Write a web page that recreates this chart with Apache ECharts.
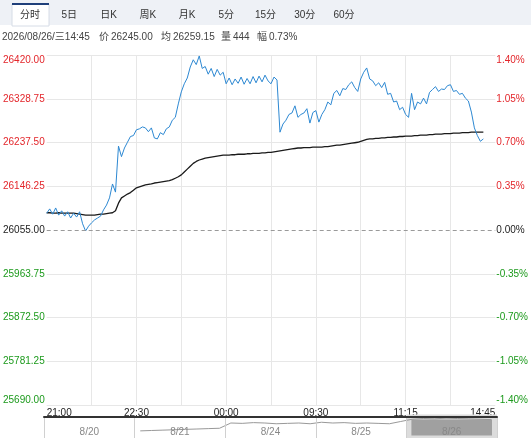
<!DOCTYPE html>
<html><head><meta charset="utf-8">
<script src="https://cdn.jsdelivr.net/npm/echarts@6/dist/echarts.min.js"></script>
<style>html,body{margin:0;padding:0;background:#fff}#c{width:531px;height:438px}</style>
</head><body><div id="c"></div>
<script>
// ---------- data ----------
const tabs = ['分时','5日','日K','周K','月K','5分','15分','30分','60分'];
const infoLabels = ['', '价', '均', '量', '幅'];
const infoValues = ['2026/08/26/三14:45', '26245.00', '26259.15', '444', '0.73%'];
const prevClose = 26055;
const priceMin = 25690, priceMax = 26420, priceStep = 91.25;
const pctMin = -1.4, pctMax = 1.4, pctStep = 0.35;
const timeTicks = ['21:00','22:30','00:00','09:30','11:15','14:45'];
const slotCount = 151;
const price = [
 26090,26099,26088,26101,26086,26095,26084,26093,26080,26090,
 26082,26093,26068,26053,26063,26070,26076,26080,26084,26097,
 26107,26122,26151,26134,26230,26208,26226,26238,26250,26252,
 26264,26266,26270,26268,26260,26268,26247,26245,26258,26254,
 26266,26270,26284,26290,26318,26343,26360,26372,26395,26410,
 26400,26418,26392,26396,26380,26392,26375,26390,26378,26384,
 26360,26372,26358,26370,26361,26374,26359,26371,26360,26375,
 26362,26376,26364,26378,26366,26360,26374,26368,26259,26276,
 26284,26296,26299,26314,26290,26296,26299,26308,26278,26300,
 26304,26280,26296,26306,26322,26316,26340,26346,26335,26350,
 26348,26358,26364,26352,26344,26370,26384,26393,26370,26366,
 26356,26362,26352,26363,26338,26340,26322,26324,26306,26311,
 26296,26290,26340,26306,26322,26318,26330,26318,26342,26348,
 26354,26344,26349,26348,26356,26358,26344,26346,26338,26340,
 26330,26324,26301,26268,26252,26240,26245
];
const avgPrice = [
 26091,26091,26090,26090,26091,26090,26090,26090,26090,26090,
 26089,26088,26087,26086,26086,26086,26086,26087,26088,26088,
 26089,26090,26091,26095,26111,26122,26126,26130,26133,26138,
 26143,26145,26147,26149,26150,26151,26153,26154,26155,26156,
 26157,26158,26160,26163,26166,26170,26176,26182,26188,26194,
 26198,26201,26203,26205,26206,26207,26208,26209,26210,26211,
 26211,26211,26212,26212,26213,26213,26213,26214,26214,26215,
 26215,26215,26216,26216,26217,26217,26218,26219,26220,26221,
 26222,26223,26224,26225,26226,26226,26227,26227,26227,26228,
 26228,26228,26228,26229,26229,26230,26231,26232,26232,26233,
 26234,26235,26236,26237,26238,26240,26242,26244,26245,26245,
 26246,26246,26247,26247,26248,26248,26249,26249,26250,26250,
 26251,26251,26251,26252,26252,26253,26253,26253,26254,26254,
 26255,26255,26255,26256,26256,26256,26257,26257,26257,26258,
 26258,26258,26259,26259,26259,26259,26259
];
const navDays = ['8/20','8/21','8/24','8/25','8/26'];
const navSelected = '8/26';
const navTrend = [
 null,null,null,null,null,null,null,null,
 25707,25729,25750,25771,25793,25814,25836,25857,
 26157,26136,26179,26157,26114,26136,26157,26114,
 26200,26157,26179,26136,26157,26136,26114,26243,
 26371,26414,26393,26436,26414,26393,26371,26350
];
const navMin = 25300, navMax = 26500;

// ---------- chart ----------
const FONT = '"Liberation Sans", Arial, "Noto Sans CJK SC", sans-serif';
const RED = '#e3262b', GREEN = '#1c9a1c', DARK = '#222';
const signColor = d => d > 1e-9 ? RED : (d < -1e-9 ? GREEN : DARK);
const labelEvery = (slotCount - 1) / (timeTicks.length - 1);
const gridEvery = labelEvery / 2;
const slots = Array.from({length: slotCount}, (_, i) => String(i));
const navSlots = Array.from({length: navTrend.length}, (_, i) => String(i));
const nGrid = Math.round((priceMax - priceMin) / priceStep) + 1;
const hColors = Array.from({length: nGrid}, (_, i) =>
  Math.abs(priceMin + i * priceStep - prevClose) < 1e-6 ? 'rgba(0,0,0,0)' : '#e7e7e7');

const graphics = [
  {type:'rect', shape:{x:0, y:0, width:531, height:25}, style:{fill:'#eef1f6'}, silent:true},
  {type:'rect', shape:{x:12, y:4, width:37, height:22}, style:{fill:'#fff', stroke:'#d6dce6', lineWidth:1}, silent:true},
  {type:'rect', shape:{x:12, y:3, width:37, height:2}, style:{fill:'#1f3f7a'}, silent:true}
];
tabs.forEach((t, k) => graphics.push({
  type:'text', silent:true,
  style:{text:t, x:30 + 39.25 * k, y:15, align:'center', verticalAlign:'middle',
         font:'10px ' + FONT, fill:'#333'}
}));
const infoX = [2, 99, 161, 221, 257];
infoLabels.forEach((lab, k) => {
  if (lab) graphics.push({type:'text', silent:true,
    style:{text:lab, x:infoX[k], y:37, verticalAlign:'middle', font:'10px ' + FONT, fill:'#444'}});
  graphics.push({type:'text', silent:true,
    style:{text:infoValues[k], x:infoX[k] + (lab ? 12 : 0), y:37, verticalAlign:'middle', font:'10px ' + FONT, fill:'#444'}});
});

const chart = echarts.init(document.getElementById('c'), null, {renderer:'canvas'});
chart.setOption({
  animation:false,
  backgroundColor:'#fff',
  textStyle:{fontFamily:FONT},
  graphic:graphics,
  grid:[
    {left:44, right:34, top:55, height:350},
    {left:44, right:34, top:417, height:29}
  ],
  xAxis:[
    {type:'category', gridIndex:0, data:slots, boundaryGap:false,
     axisLine:{show:false}, axisTick:{show:false},
     axisLabel:{interval:(i) => i % labelEvery === 0, formatter:(v, i) => timeTicks[Math.round(i / labelEvery)],
                color:'#222', fontSize:10, margin:3, showMinLabel:true, showMaxLabel:true,
                alignMinLabel:'left', alignMaxLabel:'right'},
     splitLine:{show:true, interval:(i) => i % gridEvery === 0 && i > 0 && i < slotCount - 1,
                lineStyle:{color:'#e7e7e7', width:1}}},
    {type:'category', gridIndex:1, data:navDays, position:'top', boundaryGap:true, z:10,
     axisLine:{show:true, lineStyle:{color:'#333', width:2}}, axisTick:{show:false},
     axisLabel:{inside:true, color:'#888', fontSize:10, margin:10},
     splitLine:{show:true, interval:0, lineStyle:{color:'#d0d0d0'}}},
    {type:'category', gridIndex:1, data:navSlots, boundaryGap:true, show:false}
  ],
  yAxis:[
    {type:'value', gridIndex:0, position:'left', min:priceMin, max:priceMax, interval:priceStep,
     axisLine:{show:false}, axisTick:{show:false},
     axisLabel:{formatter:v => Number(v).toFixed(2), color:v => signColor(Number(v) - prevClose),
                fontSize:10, margin:2, verticalAlignMinLabel:'bottom', verticalAlignMaxLabel:'top'},
     splitLine:{show:true, lineStyle:{color:hColors, width:1}}},
    {type:'value', gridIndex:0, position:'right', min:pctMin, max:pctMax, interval:pctStep,
     axisLine:{show:false}, axisTick:{show:false},
     axisLabel:{formatter:v => Number(v).toFixed(2) + '%', color:v => signColor(Number(v)),
                fontSize:10, margin:1, verticalAlignMinLabel:'bottom', verticalAlignMaxLabel:'top'},
     splitLine:{show:false}},
    {type:'value', gridIndex:1, min:navMin, max:navMax, show:false, splitLine:{show:false}}
  ],
  series:[
    {name:'价', type:'line', xAxisIndex:0, yAxisIndex:0, data:price, showSymbol:false, symbol:'none',
     lineStyle:{color:'#2d88d2', width:1}, itemStyle:{color:'#2d88d2'}, z:4,
     markLine:{silent:true, symbol:'none', label:{show:false}, animation:false,
               lineStyle:{color:'#9a9a9a', type:[4,3], width:1},
               data:[{yAxis:prevClose}]}},
    {name:'均', type:'line', xAxisIndex:0, yAxisIndex:0, data:avgPrice, showSymbol:false, symbol:'none',
     lineStyle:{color:'#1a1a1a', width:1.3}, itemStyle:{color:'#1a1a1a'}, z:3},
    {name:'sel', type:'bar', xAxisIndex:1, yAxisIndex:2, silent:true,
     data:navDays.map(d => d === navSelected ? navMax * 2 : null),
     barWidth:'100%', itemStyle:{color:'#a0a0a0', borderColor:'#dcdcdc', borderWidth:5}},
    {name:'5日', type:'line', xAxisIndex:2, yAxisIndex:2, data:navTrend, showSymbol:false, symbol:'none',
     lineStyle:{color:'#999', width:1}, z:5}
  ]
});
</script>
</body></html>
